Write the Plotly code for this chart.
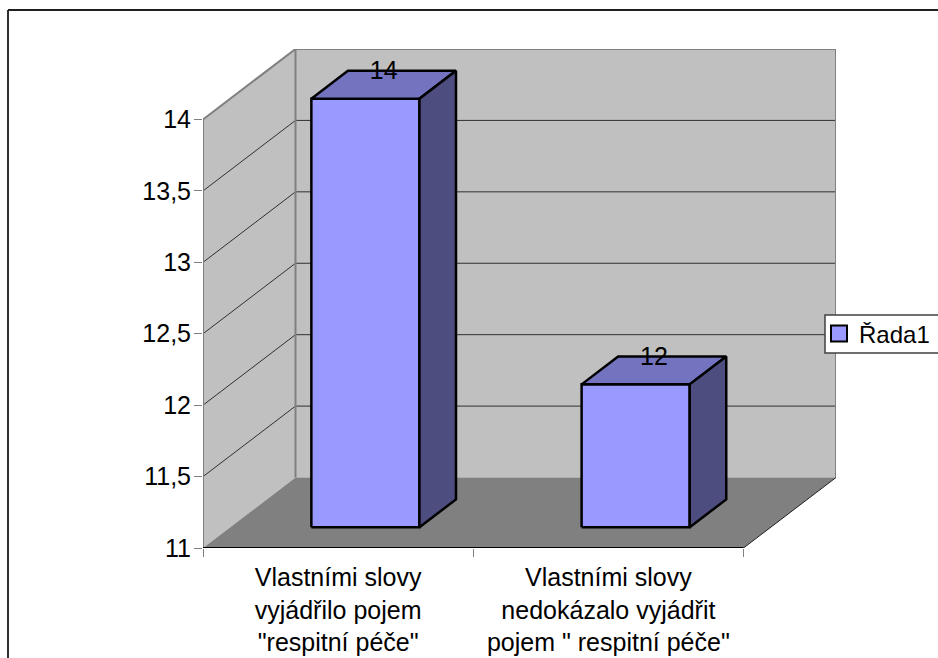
import plotly.graph_objects as go

# Chart content
categories = ['Vlastními slovy<br>vyjádřilo pojem<br>"respitní péče"',
              'Vlastními slovy<br>nedokázalo vyjádřit<br>pojem " respitní péče"']
series_name = "Řada1"
values = [14, 12]
value_ticks = [11, 11.5, 12, 12.5, 13, 13.5, 14]
baseline = 11

# Oblique projection: how far one full unit of depth shifts a point
DEPTH_X = 0.3423   # in category units
DEPTH_Y = 0.4934   # in value units

# Column placement inside its category slot and inside the floor depth
BAR_START, BAR_END = 0.30, 0.70
BAR_NEAR, BAR_FAR = 0.295, 0.69

WALL = "#C0C0C0"
FLOOR = "#808080"
EDGE = "#808080"
FRONT = "#9999FF"
TOP = "#7373BF"
SIDE = "#4D4D80"
FONT = "Liberation Sans"
FONT_SIZE = 25


def project(cat, val, depth):
    return cat + depth * DEPTH_X, val + depth * DEPTH_Y


def path(points):
    pairs = [project(*p) for p in points]
    return [p[0] for p in pairs], [p[1] for p in pairs]


def polygon(points, fill, line_color, line_width):
    x, y = path(points + points[:1])
    return go.Scatter(x=x, y=y, mode="lines", fill="toself", fillcolor=fill,
                      line=dict(color=line_color, width=line_width),
                      showlegend=False, hoverinfo="skip", cliponaxis=False)


def stroke(points, color, width):
    x, y = path(points)
    return go.Scatter(x=x, y=y, mode="lines", line=dict(color=color, width=width),
                      showlegend=False, hoverinfo="skip", cliponaxis=False)


n = len(categories)
top = value_ticks[-1]
fig = go.Figure()

# Walls and floor of the 3D box
fig.add_trace(polygon([(0, baseline, 1), (n, baseline, 1), (n, top, 1), (0, top, 1)], WALL, WALL, 0))
fig.add_trace(polygon([(0, baseline, 0), (0, baseline, 1), (0, top, 1), (0, top, 0)], WALL, WALL, 0))
fig.add_trace(polygon([(0, baseline, 0), (n, baseline, 0), (n, baseline, 1), (0, baseline, 1)], FLOOR, FLOOR, 0))

# Gridlines wrap around the left and back walls
for v in value_ticks[1:-1]:
    fig.add_trace(stroke([(0, v, 0), (0, v, 1), (n, v, 1)], "#303030", 1))

# Wall outlines
fig.add_trace(stroke([(0, baseline, 0), (0, top, 0), (0, top, 1), (n, top, 1), (n, baseline, 1)], EDGE, 2))
fig.add_trace(stroke([(0, baseline, 1), (0, top, 1)], EDGE, 2))
fig.add_trace(stroke([(n, baseline, 1), (n, baseline, 0)], "#202020", 1))
fig.add_trace(stroke([(0, baseline, 0), (n, baseline, 0)], "#000000", 2))

# Columns: front, top and side faces
for i, v in enumerate(values):
    x0, x1 = i + BAR_START, i + BAR_END
    fig.add_trace(polygon([(x0, baseline, BAR_NEAR), (x1, baseline, BAR_NEAR),
                           (x1, v, BAR_NEAR), (x0, v, BAR_NEAR)], FRONT, "#000000", 2.5))
    fig.add_trace(polygon([(x0, v, BAR_NEAR), (x1, v, BAR_NEAR),
                           (x1, v, BAR_FAR), (x0, v, BAR_FAR)], TOP, "#000000", 2.5))
    fig.add_trace(polygon([(x1, baseline, BAR_NEAR), (x1, baseline, BAR_FAR),
                           (x1, v, BAR_FAR), (x1, v, BAR_NEAR)], SIDE, "#000000", 2.5))

# Value labels: horizontally over the middle of the top face, vertically on its far edge
lx, ly = [], []
for i, v in enumerate(values):
    centre = i + (BAR_START + BAR_END) / 2
    lx.append(project(centre, v, (BAR_NEAR + BAR_FAR) / 2)[0])
    ly.append(project(centre, v, BAR_FAR - 0.03)[1])
fig.add_trace(go.Scatter(x=lx, y=ly, mode="text", text=[str(v) for v in values],
                         textposition="middle center",
                         textfont=dict(family=FONT, size=FONT_SIZE, color="#000000"),
                         showlegend=False, hoverinfo="skip", cliponaxis=False))

# Legend entry for the single series
fig.add_trace(go.Scatter(x=[None], y=[None], mode="markers", name=series_name,
                         marker=dict(symbol="square", size=16, color=FRONT,
                                     line=dict(color="#000000", width=2))))

LEFT, RIGHT, TOP_PX, BOTTOM = 203, 102, 49, 110
W, H = 938, 658
plot_w, plot_h = W - LEFT - RIGHT, H - TOP_PX - BOTTOM


def paper_x(px):
    return (px - LEFT) / plot_w


def paper_y(py):
    return (H - BOTTOM - py) / plot_h


fig.update_layout(
    width=W, height=H,
    margin=dict(l=LEFT, r=RIGHT, t=TOP_PX, b=BOTTOM, pad=0, autoexpand=False),
    paper_bgcolor="#FFFFFF", plot_bgcolor="rgba(0,0,0,0)",
    font=dict(family=FONT, size=FONT_SIZE, color="#000000"),
    separators=", ",
    showlegend=True,
    legend=dict(x=paper_x(828), xanchor="left", y=paper_y(334), yanchor="middle",
                bgcolor="rgba(0,0,0,0)", borderwidth=0, indentation=-9,
                font=dict(family=FONT, size=24), itemclick=False, itemdoubleclick=False),
    xaxis=dict(range=[0, n + DEPTH_X], tickmode="array",
               tickvals=[i + 0.5 for i in range(n)], ticktext=categories,
               ticks="", showgrid=False, zeroline=False, showline=False,
               ticklabelstandoff=12, fixedrange=True, automargin=False,
               tickangle=0,
               minor=dict(tickmode="array", tickvals=list(range(n + 1)), ticks="outside",
                          ticklen=8, tickcolor=EDGE, tickwidth=1, showgrid=False)),
    yaxis=dict(range=[baseline, top + DEPTH_Y], tickmode="array", tickvals=value_ticks,
               ticks="outside", ticklen=8, tickcolor=EDGE, tickwidth=1, automargin=False,
               ticklabelstandoff=-2,
               showgrid=False, zeroline=False, showline=False, fixedrange=True),
    shapes=[
        # Chart frame: runs off the bottom and right of the page
        dict(type="line", xref="paper", yref="paper",
             x0=paper_x(8), x1=paper_x(8), y0=paper_y(658), y1=paper_y(10),
             line=dict(color="#303030", width=2)),
        dict(type="line", xref="paper", yref="paper",
             x0=paper_x(8), x1=paper_x(938), y0=paper_y(10), y1=paper_y(10),
             line=dict(color="#202020", width=2)),
        # Legend panel
        dict(type="rect", xref="paper", yref="paper", layer="above",
             x0=paper_x(825), x1=paper_x(945), y0=paper_y(353), y1=paper_y(315),
             fillcolor="#FFFFFF", line=dict(color="#404040", width=1.5)),
    ],
)

fig.write_html("out.html", config=dict(displayModeBar=False))
